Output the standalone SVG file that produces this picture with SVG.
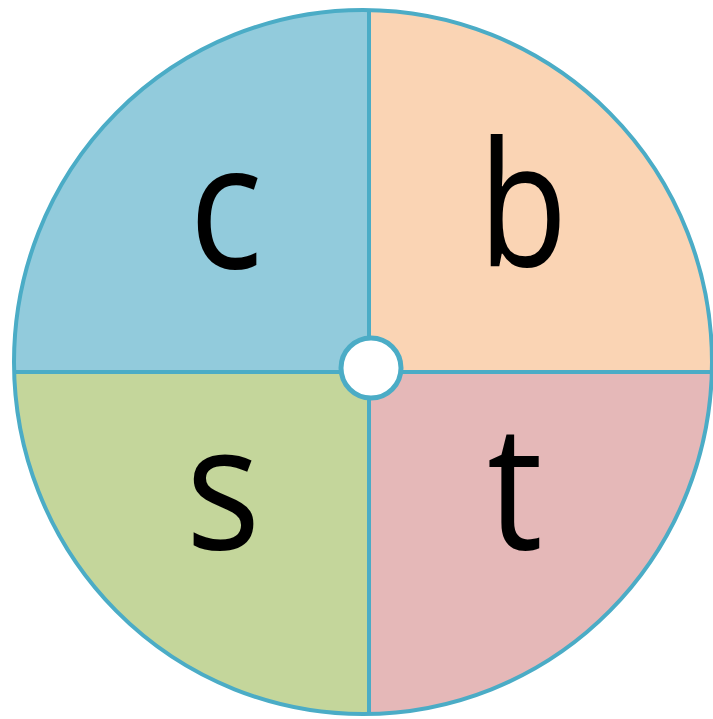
<svg xmlns="http://www.w3.org/2000/svg" width="713" height="719" viewBox="0 0 713 719">
<style>
.lbl{font-family:"Open Sans","Noto Sans",sans-serif;font-size:174px;fill:#000;text-anchor:middle}
.ln{stroke:#4BACC6;stroke-width:4;fill:none}
</style>
<defs>
<clipPath id="cc"><ellipse cx="363" cy="362" rx="349" ry="352"/></clipPath>
</defs>
<rect width="713" height="719" fill="#fff"/>
<g id="quadrants" clip-path="url(#cc)">
<g id="q-c"><rect x="0" y="0" width="370" height="372" fill="#92CBDC"/></g>
<g id="q-b"><rect x="370" y="0" width="343" height="372" fill="#FAD4B4"/></g>
<g id="q-s"><rect x="0" y="372" width="370" height="347" fill="#C4D69B"/></g>
<g id="q-t"><rect x="370" y="372" width="343" height="347" fill="#E5B8B8"/></g>
</g>
<g id="connectors">
<line class="ln" x1="369" y1="0" x2="369" y2="719" clip-path="url(#cc)"/>
<line class="ln" x1="0" y1="372" x2="713" y2="372" clip-path="url(#cc)"/>
<ellipse class="ln" cx="363" cy="362" rx="349" ry="352"/>
</g>
<g id="hub"><circle cx="371" cy="368" r="30" fill="#fff" stroke="#4BACC6" stroke-width="5"/></g>
<g id="label-c" transform="translate(226,268) scale(0.88,1)"><text class="lbl" x="0" y="0">c</text></g>
<g id="label-b" transform="translate(523,266) scale(0.84,1)"><text class="lbl" x="0" y="0">b</text></g>
<g id="label-s" transform="translate(223,549) scale(0.9,1)"><text class="lbl" x="0" y="0">s</text></g>
<g id="label-t" transform="translate(515,549) scale(0.9,1)"><text class="lbl" x="0" y="0">t</text></g>
</svg>
